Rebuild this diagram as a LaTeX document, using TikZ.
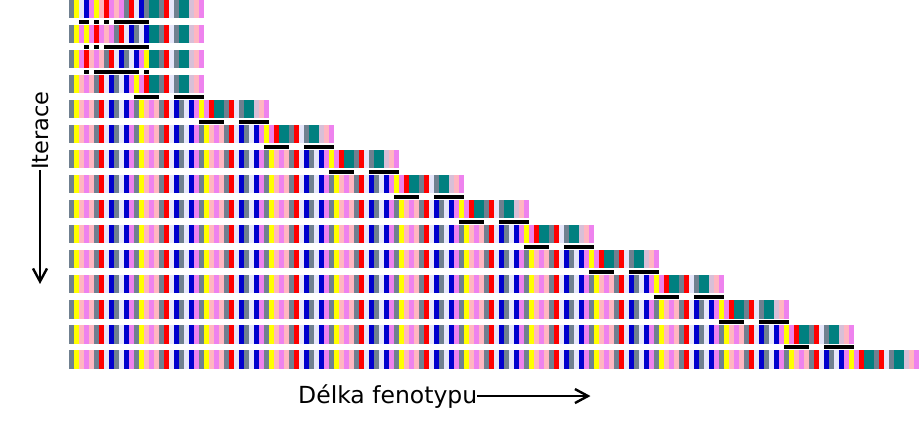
\documentclass[tikz,border=0pt]{standalone}
\usepackage{fontspec}
\newfontfamily\labelfont{DejaVu Sans}
\usetikzlibrary{arrows.meta}

\definecolor{cg}{HTML}{708090}
\definecolor{cy}{HTML}{FFFF00}
\definecolor{cl}{HTML}{E6E6FA}
\definecolor{cb}{HTML}{0000CD}
\definecolor{cv}{HTML}{EE82EE}
\definecolor{cp}{HTML}{FFB6C1}
\definecolor{cr}{HTML}{FF0000}
\definecolor{ct}{HTML}{008080}
\definecolor{cs}{HTML}{D8BFD8}

\def\seqone{g,y,l,b,v,y,p,r,v,p,v,g,r,l,b,g,t,t,g,r,l,g,t,t,s,p,v}
\def\seqtwo{g,y,v,y,v,r,v,p,v,g,r,l,b,g,l,b,t,t,g,r,l,g,t,t,s,p,v}
\def\seqthree{g,y,v,r,p,v,p,g,r,l,b,g,l,b,v,y,t,t,g,r,l,g,t,t,s,p,v}
\def\sequnit{g,y,p,v,p,g,r,l,b,g,l,b,v}
\def\seqtail{y,v,r,t,t,g,r,l,g,t,t,s,p,v}

\def\codons(#1)(#2)#3{\foreach \code [count=\i from 0] in #3 {\fill[c\code] ({#1+5*\i},#2) rectangle +(5,18.5);}}
\def\markbar(#1:#2:#3){\fill[black] ({64+5*#2},{25*#1-5}) rectangle ({69+5*#3},{25*#1-1});}

\tikzset{
  lbl/.style={font=\labelfont\fontsize{22.5}{27}\selectfont, inner sep=0pt},
  axisarrow/.style={line width=2.4pt, -{Straight Barb[length=13pt,width=14pt]}}
}

\begin{document}
\begin{tikzpicture}[x=1pt, y=-1pt]
			%%%%% START %%%%%
			\useasboundingbox (0, 0) rectangle (920, 435);
			
			\codons(69)(0)\seqone
			\codons(69)(25)\seqtwo
			\codons(69)(50)\seqthree
			
			\foreach \k in {4,...,15}{
				\pgfmathtruncatemacro\reps{\k-3}
				\pgfmathsetmacro\rowy{25*(\k-1)}
				\foreach \j in {1,...,\reps}{
					\pgfmathsetmacro\rowx{69+65*(\j-1)}
					\codons(\rowx)(\rowy)\sequnit
				}
				\pgfmathsetmacro\rowx{69+65*\reps}
				\codons(\rowx)(\rowy)\seqtail
			}
			
			\markbar(1:3:4) \markbar(1:6:6) \markbar(1:8:8) \markbar(1:10:16)
			\markbar(2:4:4) \markbar(2:6:6) \markbar(2:8:16)
			\markbar(3:4:4) \markbar(3:6:14) \markbar(3:16:16)
			
			\foreach \k in {4,...,14}{
				\pgfmathtruncatemacro\a{13*(\k-3)+1}
				\pgfmathtruncatemacro\b{\a+4}
				\pgfmathtruncatemacro\c{\a+8}
				\pgfmathtruncatemacro\d{\a+13}
				\markbar(\k:\a:\b) \markbar(\k:\c:\d)
			}
			
			\node[lbl, font=\labelfont\fontsize{23.5}{28}\selectfont, anchor=base west] (lenlabel) at (298, 403) {Délka fenotypu};
			\coordinate (lenend) at ([xshift=113pt]lenlabel.east);
			\draw[axisarrow] (lenlabel.east) -- (lenend);
			
			\node[lbl, rotate=90] (iterlabel) at (40, 130.5) {Iterace};
			\coordinate (iterend) at ([yshift=-114pt]iterlabel.west);
			\draw[axisarrow] (iterlabel.west) -- (iterend);
			
			%%%%% END %%%%%
\end{tikzpicture}
\end{document}
